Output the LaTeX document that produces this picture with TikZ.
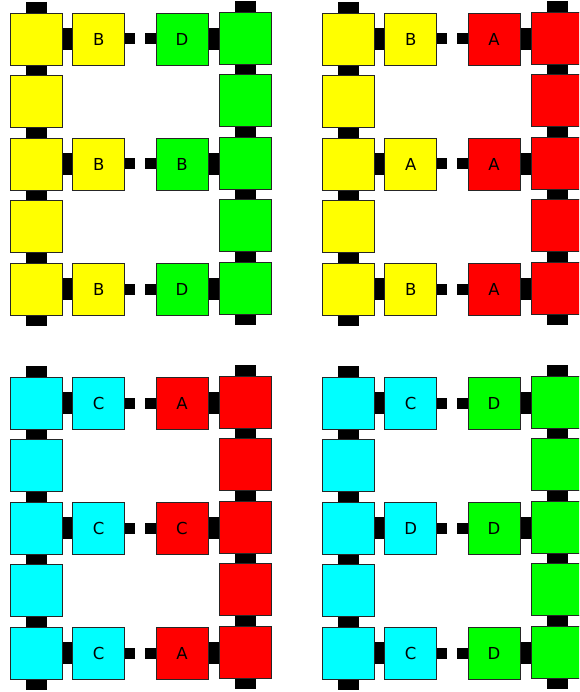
\documentclass[tikz,border=0pt]{standalone}
\usepackage{fontspec}
\setmainfont{DejaVu Sans}
\usetikzlibrary{backgrounds}
\definecolor{cyel}{RGB}{255,255,0}
\definecolor{cgrn}{RGB}{0,255,0}
\definecolor{cred}{RGB}{255,0,0}
\definecolor{ccyn}{RGB}{0,255,255}
\tikzset{
  box/.style={draw=black!85, line width=0.8pt, minimum size=52pt, inner sep=0pt,
    font=\fontsize{16.5}{19}\selectfont},
  bigcon/.style={line width=22pt, black},
  vcon/.style={line width=21pt, black},
  smallcon/.style={line width=11pt, black},
}
\begin{document}
\begin{tikzpicture}[x=1pt,y=-1pt]
\clip (0,0) rectangle (579,692);
\foreach \p/\ox/\oy/\lc/\rc/\a/\b/\c/\d/\e/\f in
  {1/0/0/cyel/cgrn/B/D/B/B/B/D,
   2/312/0/cyel/cred/B/A/A/A/B/A,
   3/0/364/ccyn/cred/C/A/C/C/C/A,
   4/312/364/ccyn/cgrn/C/D/D/D/C/D}{
  \begin{scope}[shift={(\ox,\oy)}]
    \foreach \r/\y in {1/39,2/101.5,3/164,4/226.5,5/289}{
      \node[box, fill=\lc] (p\p L\r) at (36,\y) {};
      \node[box, fill=\rc] (p\p R\r) at (245.5,\y-1) {};
    }
    \node[box, fill=\lc] (p\p M1) at (98.7,39) {\a};
    \node[box, fill=\rc] (p\p N1) at (182,39) {\b};
    \node[box, fill=\lc] (p\p M3) at (98.7,164) {\c};
    \node[box, fill=\rc] (p\p N3) at (182,164) {\d};
    \node[box, fill=\lc] (p\p M5) at (98.7,289) {\e};
    \node[box, fill=\rc] (p\p N5) at (182,289) {\f};
    \coordinate (p\p LT) at (36,2);
    \coordinate (p\p LB) at (36,325.5);
    \coordinate (p\p RT) at (245.5,1);
    \coordinate (p\p RB) at (245.5,324.5);
    \foreach \r/\y in {1/39,3/164,5/289}{
      \coordinate (p\p S\r) at (135.3,\y);
      \coordinate (p\p T\r) at (145,\y);
    }
    \begin{pgfonlayer}{background}
      \draw[vcon] (p\p LT) -- (p\p L1.north);
      \draw[vcon] (p\p L5.south) -- (p\p LB);
      \draw[vcon] (p\p RT) -- (p\p R1.north);
      \draw[vcon] (p\p R5.south) -- (p\p RB);
      \foreach \r/\s in {1/2,2/3,3/4,4/5}{
        \draw[vcon] (p\p L\r.south) -- (p\p L\s.north);
        \draw[vcon] (p\p R\r.south) -- (p\p R\s.north);
      }
      \foreach \r in {1,3,5}{
        \draw[bigcon] (p\p L\r.east) -- (p\p M\r.west);
        \draw[smallcon] (p\p M\r.east) -- (p\p S\r);
        \draw[smallcon] (p\p T\r) -- (p\p N\r.west);
        \draw[bigcon] (p\p N\r.east) -- (p\p N\r.east -| p\p R\r.west);
      }
    \end{pgfonlayer}
  \end{scope}
}
\end{tikzpicture}
\end{document}
